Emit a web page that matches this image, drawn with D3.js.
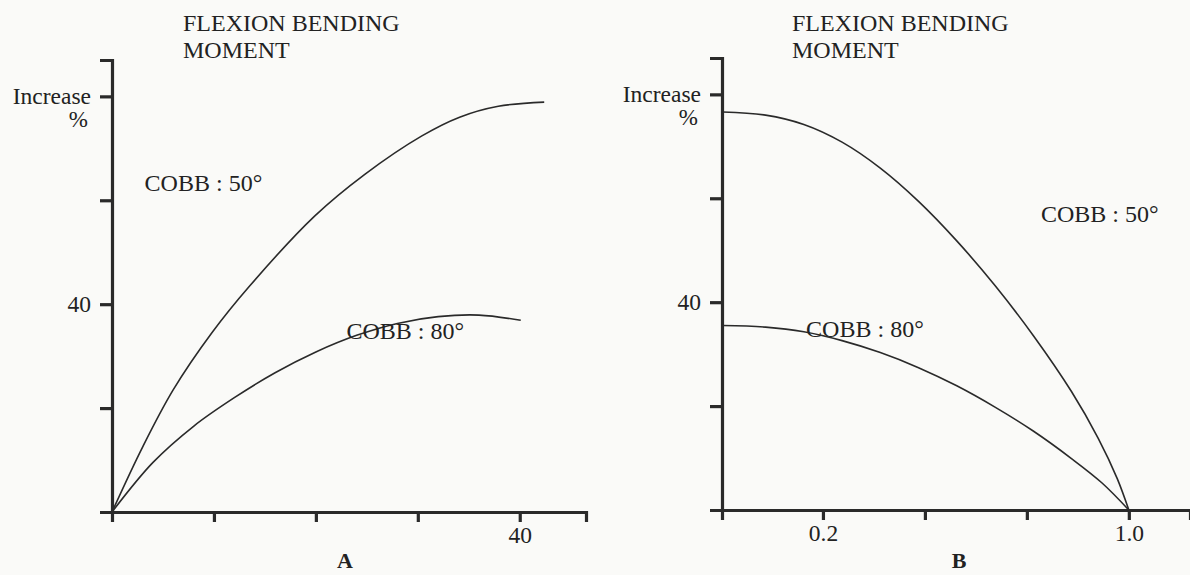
<!DOCTYPE html>
<html><head><meta charset="utf-8">
<script src="https://cdn.jsdelivr.net/npm/d3@7"></script>
<style>
body{margin:0;background:#fafaf8}
text{font-family:"Liberation Serif","Times New Roman",serif;fill:#222}
</style>
</head><body><svg id="c" width="1190" height="575"></svg>
<script>
// ---- data ----
const titleLines = ["FLEXION BENDING", "MOMENT"];
const yTickValues = [20, 40, 60, 80];
const yTickLabels = ["", "40", "", "Increase"];
const yUnitLabel = "%";
const seriesLabels = ["COBB : 50°", "COBB : 80°"];
const panelLetters = ["A", "B"];

const aXTickValues = [10, 20, 30, 40];
const aXTickLabels = ["", "", "", "40"];
const aCobb50X = [0, 3, 6, 9.8, 13.5, 19.9, 24.8, 30.4, 34.1, 37.9, 42.4];
const aCobb50Y = [0, 12.5, 23.5, 34.5, 43.5, 57.0, 65.0, 72.4, 76.0, 78.1, 78.9];
const aCobb80X = [0, 4, 8, 12, 16, 20, 24, 28, 32, 36, 40.1];
const aCobb80Y = [0, 9.5, 16.5, 22.0, 26.8, 30.8, 34.0, 36.3, 37.6, 37.9, 36.9];

const bXTickValues = [0.2, 0.4667, 0.7333, 1.0];
const bXTickLabels = ["0.2", "", "", "1.0"];
const bCobb50X = [-0.062, 0.05, 0.15, 0.25, 0.35, 0.45, 0.55, 0.65, 0.75, 0.85, 0.92, 0.97, 1.0];
const bCobb50Y = [76.6, 76.0, 74.2, 70.8, 65.8, 59.4, 51.8, 43.2, 33.6, 22.8, 13.8, 6.0, 0];
const bCobb80X = [-0.062, 0.05, 0.15, 0.25, 0.35, 0.45, 0.55, 0.65, 0.75, 0.85, 0.93, 1.0];
const bCobb80Y = [35.5, 35.2, 34.3, 32.6, 30.3, 27.4, 23.9, 19.8, 15.2, 9.9, 5.2, 0];

// ---- drawing ----
const svg = d3.select("#c");
const ink = "#2a2a2a";
const zip = (xs, ys) => xs.map((x, i) => [x, ys[i]]);

function panel(cfg) {
  const x = d3.scaleLinear().domain(cfg.xDomain).range(cfg.xRange);
  const y = d3.scaleLinear().domain([0, 87]).range(cfg.yRange);
  const g = svg.append("g");

  // axes
  const ya = d3.axisLeft(y).tickValues(yTickValues)
    .tickFormat((d, i) => yTickLabels[i]).tickSize(12).tickPadding(9);
  const gy = g.append("g").attr("transform", `translate(${cfg.xRange[0]},0)`).call(ya);
  const xa = d3.axisBottom(x).tickValues(cfg.xTicks)
    .tickFormat((d, i) => cfg.xLabels[i]).tickSize(10).tickPadding(4);
  const gx = g.append("g").attr("transform", `translate(0,${cfg.yRange[0]})`).call(xa);
  [gx, gy].forEach(a => {
    a.select(".domain").attr("stroke", ink).attr("stroke-width", 3.2);
    a.selectAll(".tick line").attr("stroke", ink).attr("stroke-width", 3.2);
    a.selectAll(".tick text").style("font-size", "23.5px").attr("fill", "#222");
  });
  gy.selectAll(".tick text").attr("dy", "0.3em");
  // unit "%" under "Increase"
  g.append("text").attr("x", cfg.xRange[0] - 24).attr("y", y(80) + 31)
    .attr("text-anchor", "end").style("font-size", "23px").text(yUnitLabel);

  // curves
  const line = d3.line().x(d => x(d[0])).y(d => y(d[1])).curve(d3.curveCatmullRom.alpha(0.5));
  cfg.series.forEach(s => {
    g.append("path").datum(s).attr("d", line).attr("fill", "none")
      .attr("stroke", ink).attr("stroke-width", 1.6);
  });

  // series labels
  cfg.labelPos.forEach((p, i) => {
    g.append("text").attr("x", x(p[0])).attr("y", y(p[1]))
      .style("font-size", "24px").text(seriesLabels[i]);
  });

  // title
  titleLines.forEach((t, i) => {
    g.append("text").attr("x", cfg.titleX).attr("y", 31 + i * 27)
      .style("font-size", "24px").text(t);
  });

  // panel letter
  g.append("text").attr("x", cfg.letterX).attr("y", 568).attr("text-anchor", "middle")
    .style("font-size", "22px").style("font-weight", "bold").text(cfg.letter);
}

panel({
  xDomain: [0, 46.5], xRange: [112, 586], yRange: [512, 60],
  xTicks: aXTickValues, xLabels: aXTickLabels,
  series: [zip(aCobb50X, aCobb50Y), zip(aCobb80X, aCobb80Y)],
  labelPos: [[3.2, 61.8], [23.0, 33.3]],
  titleX: 183, letterX: 345, letter: panelLetters[0]
});
panel({
  xDomain: [-0.064, 1.16], xRange: [722, 1190], yRange: [510, 58],
  xTicks: bXTickValues, xLabels: bXTickLabels,
  series: [zip(bCobb50X, bCobb50Y), zip(bCobb80X, bCobb80Y)],
  labelPos: [[0.77, 55.5], [0.156, 33.3]],
  titleX: 792, letterX: 959, letter: panelLetters[1]
});
</script>
</body></html>
